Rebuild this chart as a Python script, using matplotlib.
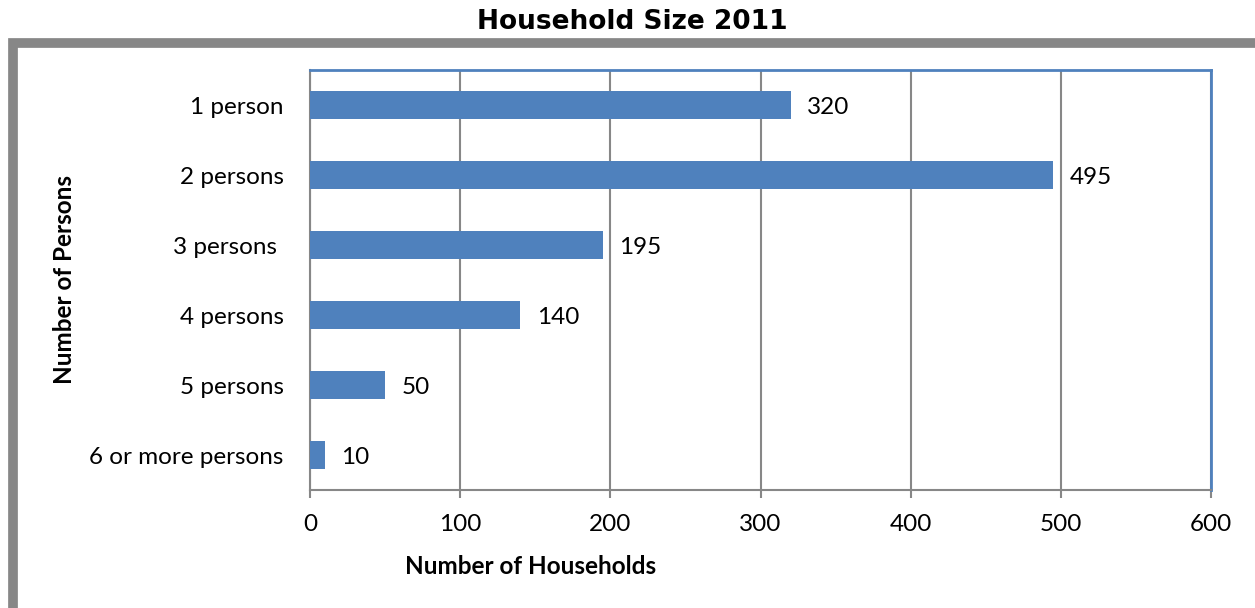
import matplotlib.pyplot as plt
from matplotlib.patches import Rectangle

categories = ["1 person", "2 persons", "3 persons ", "4 persons", "5 persons", "6 or more persons"]
households = [320, 495, 195, 140, 50, 10]
xticks = [0, 100, 200, 300, 400, 500, 600]

bar_col = "#4F81BD"
grid_col = "#878787"
fs = 17.5

fig = plt.figure(figsize=(12.55, 6.08), dpi=100)
ax = fig.add_axes([310/1255, 1-490/608, 901/1255, 420/608])

ypos = list(range(len(categories)))
ax.barh(ypos, households, height=0.4, color=bar_col, zorder=3)
ax.set_ylim(len(categories)-0.5, -0.5)
ax.set_xlim(0, 600)

for y, v in zip(ypos, households):
    ax.text(v + 11, y + 0.03, str(v), va="center", ha="left", fontsize=fs, family="Lato")

ax.set_xticks(xticks)
ax.set_xticklabels([str(t) for t in xticks], fontsize=fs, family="Lato")
ax.set_yticks(ypos)
ax.set_yticklabels(categories, fontsize=fs, family="Lato")
ax.tick_params(axis="y", length=0, pad=19)
ax.tick_params(axis="x", length=6, width=1.5, color=grid_col, pad=11)

ax.grid(axis="x", color=grid_col, linewidth=1.5, zorder=0)
ax.spines["left"].set_color(grid_col)
ax.spines["bottom"].set_color(grid_col)
ax.spines["left"].set_linewidth(1.5)
ax.spines["bottom"].set_linewidth(1.5)
ax.spines["top"].set_color(bar_col)
ax.spines["right"].set_color(bar_col)
ax.spines["top"].set_linewidth(2)
ax.spines["right"].set_linewidth(2)

# outer frame (only top-left edges visible)
fig.patches.append(Rectangle((13/1255, -0.2), 1.2, 1.2 - 42.5/608, transform=fig.transFigure,
                             fill=False, edgecolor="#878787", linewidth=7, zorder=0))

fig.text(632/1255, 1-22/608, "Household Size 2011", ha="center", va="center",
         fontsize=19, fontweight="bold", family="DejaVu Sans")
fig.text(531/1255, 1-566/608, "Number of Households", ha="center", va="center",
         fontsize=fs, fontweight="bold", family="Lato")
fig.text(64/1255, 1-280/608, "Number of Persons", ha="center", va="center", rotation=90,
         fontsize=fs, fontweight="bold", family="Lato")

fig.savefig("out.png", dpi=100)
